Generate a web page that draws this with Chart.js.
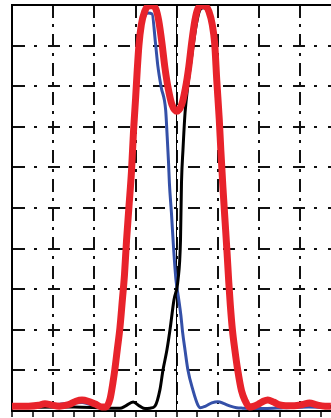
<!DOCTYPE html>
<html>
<head>
<meta charset="utf-8">
<script src="https://cdn.jsdelivr.net/npm/chart.js@4"></script>
<style>
  html, body { margin: 0; padding: 0; background: #fff; overflow: hidden; }
  canvas { display: block; }
</style>
</head>
<body>
<canvas id="c" width="331" height="418"></canvas>
<script>
// Red: combined profile (two main peaks)
const redX = [-4.00, -3.60, -3.35, -3.20, -3.05, -2.85, -2.62, -2.45, -2.30, -2.15, -1.98, -1.82,
  -1.72, -1.62, -1.55, -1.50, -1.44, -1.38, -1.32, -1.27, -1.22, -1.16, -1.10, -1.05, -1.00,
  -0.96, -0.92, -0.86, -0.78, -0.70, -0.60, -0.50, -0.44, -0.36, -0.29, -0.21, -0.12, 0.00,
  0.12, 0.21, 0.29, 0.36, 0.44, 0.50, 0.60, 0.70, 0.78, 0.86, 0.92, 0.97, 1.03, 1.07, 1.12,
  1.17, 1.22, 1.26, 1.30, 1.35, 1.41, 1.48, 1.57, 1.66, 1.76, 1.88, 2.00, 2.10, 2.21, 2.35,
  2.50, 2.65, 2.85, 3.05, 3.22, 3.40, 3.60, 3.74];
const redY = [0.012, 0.012, 0.014, 0.018, 0.015, 0.012, 0.016, 0.024, 0.027, 0.024, 0.017, 0.010,
  0.010, 0.030, 0.070, 0.105, 0.155, 0.205, 0.275, 0.335, 0.420, 0.505, 0.590, 0.690, 0.770,
  0.840, 0.900, 0.952, 0.984, 0.997, 0.999, 0.988, 0.962, 0.906, 0.847, 0.795, 0.755, 0.738,
  0.755, 0.795, 0.847, 0.906, 0.962, 0.988, 0.999, 0.997, 0.984, 0.952, 0.905, 0.815, 0.720, 0.640, 0.550,
  0.470, 0.390, 0.320, 0.260, 0.200, 0.150, 0.100, 0.050, 0.025, 0.010, 0.012, 0.018, 0.024, 0.027, 0.022,
  0.015, 0.013, 0.013, 0.016, 0.020, 0.015, 0.012, 0.012];

// Blue: left-hand component
const blueX = [-4.00, -3.20, -2.30, -1.82, -1.72, -1.62, -1.55, -1.50, -1.44, -1.38, -1.32, -1.27,
  -1.22, -1.16, -1.10, -1.05, -1.00, -0.96, -0.92, -0.86, -0.78, -0.70, -0.60, -0.517, -0.46,
  -0.38, -0.27, -0.238, -0.20, -0.18, -0.13, -0.08, -0.02, 0.05, 0.10, 0.14, 0.20, 0.27, 0.39,
  0.51, 0.57, 0.70, 0.85, 1.00, 1.15, 1.30, 1.45, 1.60, 2.14, 2.60, 3.20, 3.74];
const blueY = [0.009, 0.013, 0.021, 0.008, 0.009, 0.026, 0.066, 0.100, 0.150, 0.200, 0.270, 0.330,
  0.415, 0.500, 0.585, 0.685, 0.765, 0.835, 0.895, 0.945, 0.972, 0.980, 0.978, 0.906, 0.850,
  0.798, 0.741, 0.685, 0.611, 0.562, 0.488, 0.404, 0.323, 0.273, 0.235, 0.195, 0.150, 0.101, 0.052,
  0.015, 0.008, 0.012, 0.020, 0.023, 0.018, 0.012, 0.008, 0.007, 0.006, 0.008, 0.010, 0.009];

// Black: right-hand component
const blackX = [-4.00, -2.50, -1.60, -1.38, -1.25, -1.06, -0.90, -0.77, -0.65, -0.53, -0.41, -0.335,
  -0.24, -0.165, -0.07, 0.03, 0.09, 0.114, 0.15, 0.20, 0.27, 0.37, 0.47, 0.56, 0.65, 0.75,
  0.84, 0.90, 0.95, 1.01, 1.06, 1.11, 1.16, 1.21, 1.25, 1.29, 1.34, 1.40, 1.47, 1.56, 1.65,
  1.75, 2.20, 2.60, 3.20, 3.74];
const blackY = [0.009, 0.010, 0.007, 0.007, 0.012, 0.022, 0.012, 0.006, 0.007, 0.012, 0.052, 0.101,
  0.150, 0.200, 0.273, 0.323, 0.421, 0.562, 0.643, 0.734, 0.803, 0.880, 0.950, 0.988, 0.993, 0.986,
  0.958, 0.920, 0.852, 0.755, 0.675, 0.580, 0.490, 0.405, 0.335, 0.272, 0.205, 0.150, 0.097, 0.048, 0.023,
  0.010, 0.024, 0.012, 0.017, 0.011];

// Visible axis window and tick steps
const xMin = -4, xMax = 3.743;
const xStep = 0.5, yStep = 0.1;

const toPoints = (xs, ys) => xs.map((x, i) => ({ x, y: ys[i] }));
const ink = '#111';
const isWhole = v => Math.abs(v - Math.round(v)) < 1e-6;

new Chart(document.getElementById('c'), {
  type: 'line',
  data: {
    datasets: [
      { data: toPoints(redX, redY), borderColor: '#e8232b', borderWidth: 7 },
      { data: toPoints(blackX, blackY), borderColor: '#000000', borderWidth: 3 },
      { data: toPoints(blueX, blueY), borderColor: '#3450a8', borderWidth: 3 }
    ]
  },
  options: {
    responsive: false,
    animation: false,
    layout: { padding: 0 },
    plugins: { legend: { display: false }, tooltip: { enabled: false } },
    elements: {
      point: { radius: 0 },
      line: { cubicInterpolationMode: 'monotone', fill: false }
    },
    scales: {
      x: {
        type: 'linear', position: 'bottom', min: xMin, max: xMax,
        ticks: { display: false, stepSize: xStep, includeBounds: false },
        grid: {
          color: c => (c.tick && isWhole(c.tick.value)) ? ink : 'rgba(0,0,0,0)',
          lineWidth: 2, drawTicks: true, tickLength: 6,
          tickColor: '#000', tickWidth: 1.5, tickBorderDash: []
        },
        border: { display: true, color: '#000', width: 2, dash: [13, 6, 3, 7] },
        afterFit: s => { s.height = 7; }
      },
      xTop: {
        type: 'linear', axis: 'x', position: 'top', min: xMin, max: xMax,
        ticks: { display: false }, grid: { display: false },
        border: { display: true, color: '#000', width: 2 },
        afterFit: s => { s.height = 5; }
      },
      y: {
        type: 'linear', position: 'left', min: 0, max: 1,
        ticks: { display: false, stepSize: yStep },
        grid: { color: ink, lineWidth: 2, drawTicks: false },
        border: { display: true, color: '#000', width: 2, dash: [12, 9, 3, 11] },
        afterFit: s => { s.width = 12; }
      },
      yMid: {
        type: 'linear', axis: 'y', position: { x: 0 }, min: 0, max: 1,
        ticks: { display: false }, grid: { display: false },
        border: { display: true, color: '#000', width: 1 },
        afterFit: s => { s.width = 0; }
      }
    }
  }
});
</script>
</body>
</html>
